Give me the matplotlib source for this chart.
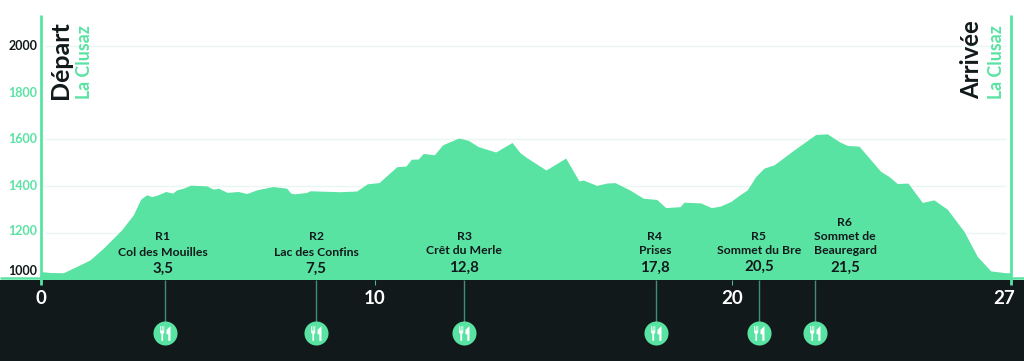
import matplotlib
matplotlib.use("Agg")
import matplotlib.pyplot as plt
from matplotlib.path import Path
from matplotlib.transforms import Affine2D

profile_pos = [0.3, 9, 22.3, 35.7, 49, 62.3, 80.7, 92.3, 99.7, 105.7, 110.7, 117.3, 124.7, 131.7, 135.7,
               142.3, 149.7, 165.7, 172.3, 177.3, 186.3, 197.3, 205.7, 215.7, 231.7, 245.7, 249.7, 254,
               265.7, 269, 299, 315.7, 326.3, 338, 355.7, 365, 370.3, 377.3, 382.3, 393.3, 401.7, 417.7,
               427.3, 437.3, 454.7, 471, 479, 485.7, 505, 524.7, 538, 542.3, 555.7, 565.7, 574, 589,
               602.3, 615.7, 624.7, 639, 643, 659.7, 670.3, 679, 689.7, 698, 706.3, 714.7, 723, 733,
               753, 774.7, 786.3, 798, 806.3, 818, 839.7, 848, 856.3, 867, 881.3, 893, 906.3, 923,
               936.3, 949.7, 964.7, 969.7]
profile_elev = [1034, 1030, 1029, 1056, 1084, 1134, 1213, 1277, 1344, 1363, 1355, 1363, 1377, 1370, 1384,
                1391, 1404, 1401, 1387, 1391, 1373, 1377, 1368, 1384, 1398, 1391, 1370, 1367,
                1373, 1380, 1376, 1379, 1410, 1415, 1483, 1486, 1515, 1516, 1540, 1534, 1577, 1606,
                1596, 1569, 1546, 1587, 1543, 1522, 1469, 1520, 1422, 1426, 1403, 1413, 1415, 1383,
                1348, 1343, 1308, 1312, 1331, 1328, 1308, 1314, 1334, 1360, 1384, 1441, 1477, 1491,
                1555, 1621, 1624, 1591, 1574, 1571, 1463, 1441, 1411, 1413, 1330, 1341, 1301, 1206,
                1099, 1037, 1029, 1029]

grid_levels = [1200, 1400, 1600, 2000]
y_labels = ["1000", "1200", "1400", "1600", "1800", "2000"]
tick_pos = [0, 334.3, 691, 970]
tick_labels = ["0", "10", "20", "27"]
stop_pos = [123.7, 275.3, 423, 615, 717.7, 773.7]
stop_ids = ["R1", "R2", "R3", "R4", "R5", "R6"]
stop_names = ["Col des Mouilles", "Lac des Confins", "Crêt du Merle", "Prises",
              "Sommet du Bre", "Sommet de\nBeauregard"]
stop_kms = ["3,5", "7,5", "12,8", "17,8", "20,5", "21,5"]

MINT = "#59E3A3"
DARK = "#12191B"
INK = "#12191B"
FONT = "Lato"
BASE = 1000

fig = plt.figure(figsize=(10.24, 3.61), dpi=100)
ax = fig.add_axes([0, 0, 1, 1])
ax.set_xlim(-41, 983)
ax.set_ylim(651, 2197)
ax.axis("off")
px = Affine2D().scale(1, -1).translate(0, 361)  # layout of labels in image pixels


def label(x, y, s, **kw):
    kw.setdefault("family", FONT)
    kw.setdefault("fontweight", "bold")
    kw.setdefault("ha", "center")
    kw.setdefault("va", "center")
    kw.setdefault("color", INK)
    return ax.text(x, y, s, transform=px, **kw)


ax.hlines(grid_levels, 4, 965, color="#EAF6F2", lw=1, zorder=1)
ax.fill_between(profile_pos, profile_elev, BASE, color=MINT, lw=0, zorder=2)
ax.axhspan(651, BASE, color=DARK, lw=0, zorder=3)
ax.hlines(BASE + 6, -41, 983, color=MINT, lw=1.8, zorder=2)

ax.vlines([tick_pos[0], tick_pos[-1]], BASE - 24, 2133, color=MINT, lw=2.0, zorder=5)
ax.vlines(tick_pos[1:3], BASE - 24, BASE, color=MINT, lw=0.8, alpha=0.8, zorder=5)
for x, s, xp in zip(tick_pos, tick_labels, [41, 375, 732, 1004]):
    label(xp, 298.5, s, color="white", fontsize=13.5)

for lev_lab, yp in zip(y_labels, [271, 231, 186, 139, 93, 46]):
    label(23, yp, lev_lab, fontsize=9, color=INK if lev_lab in ("1000", "2000") else MINT)

label(60, 99, "Départ", rotation=90, va="bottom", fontsize=18)
label(84, 99, "La Clusaz", rotation=90, va="bottom", fontsize=12.8, color=MINT)
label(972, 99, "Arrivée", rotation=90, va="bottom", fontsize=17.2)
label(996, 99, "La Clusaz", rotation=90, va="bottom", fontsize=12.8, color=MINT)

# Rest stops
circle_elev = BASE - (333.3 - 279.5) * 4.283
ax.vlines(stop_pos, circle_elev, BASE, color="#3F8F72", lw=1, zorder=4)
ax.scatter(stop_pos, [circle_elev] * len(stop_pos), s=300, color=MINT, lw=0, zorder=6)

fork = [(-.74, 1), (-.63, 1), (-.63, .4), (-.51, .4), (-.51, 1), (-.40, 1), (-.40, .4), (-.28, .4),
        (-.28, 1), (-.17, 1), (-.17, .1), (-.33, -.05), (-.33, -1), (-.56, -1), (-.56, -.05), (-.74, .1), (-.74, 1)]
knife = [(.68, 1), (.68, -1), (.38, -1), (.38, -.1), (.12, -.1), (.15, .5), (.68, 1)]
verts = fork + knife
codes = ([Path.MOVETO] + [Path.LINETO] * (len(fork) - 2) + [Path.CLOSEPOLY] +
         [Path.MOVETO] + [Path.LINETO] * (len(knife) - 2) + [Path.CLOSEPOLY])
ax.scatter(stop_pos, [circle_elev] * len(stop_pos), marker=Path(verts, codes), s=112,
           color="white", lw=0, zorder=7)

id_y = [237, 237, 236, 236, 236, 222]
name_y = [252, 252, 251, 251, 250, None]
km_y = [269, 269, 268, 268, 267, 268]
text_x = [163, 316, 464, 655, 759, 845]
for i in range(6):
    label(text_x[i], id_y[i], stop_ids[i], fontsize=8.8)
    if name_y[i] is None:
        a, b = stop_names[i].split("\n")
        label(text_x[i], 236.7, a, fontsize=8.8)
        label(text_x[i], 250.7, b, fontsize=8.8)
    else:
        label(text_x[i], name_y[i], stop_names[i], fontsize=8.8)
    label(text_x[i], km_y[i], stop_kms[i], fontsize=10.8)

fig.savefig("out.png", dpi=100, facecolor="white")
